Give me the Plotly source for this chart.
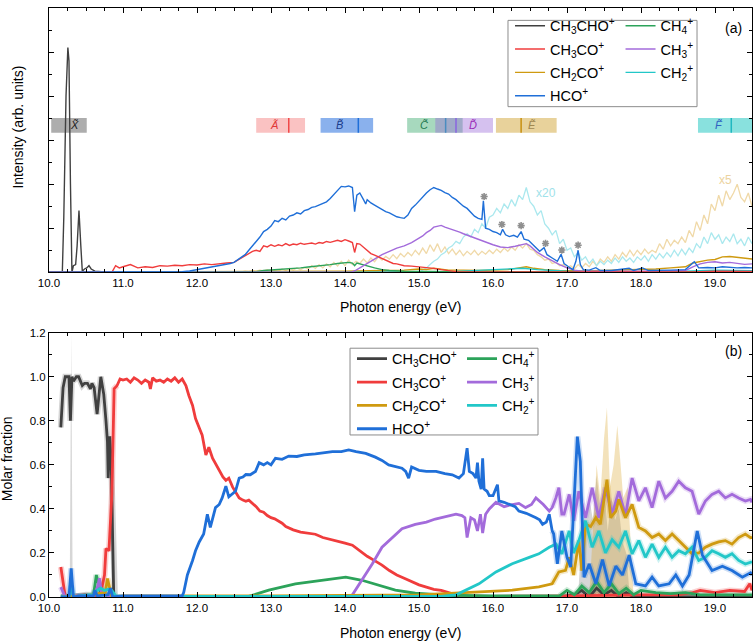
import plotly.graph_objects as go

FONT = "Arial, Liberation Sans, sans-serif"

# ---------------- colours ----------------
C_CH3CHO = "#404040"
C_CH3CO = "#f03c3c"
C_CH2CO = "#cf9a10"
C_HCO = "#1f6fd8"
C_CH4 = "#2ca35a"
C_CH3 = "#a36bdb"
C_CH2 = "#22c7c8"

# ---------------- panel (a) : intensities (arb. units) ----------------
A_CH3CHO_X = [10.0, 10.18, 10.2, 10.23, 10.255, 10.27, 10.29, 10.31, 10.33, 10.36, 10.38, 10.405, 10.43, 10.45,
              10.48, 10.51, 10.54, 10.57, 10.62, 10.7, 10.8, 11.0, 19.5]
A_CH3CHO_Y = [0, 0, 2.5, 8.0, 10.2, 9.6, 4.0, 0.0, 0.3, 0.35, 1.2, 2.8, 1.2, 0.05,
              0.15, 0.2, 0.3, 0.15, 0.05, 0.03, 0.0, 0.0, 0.0]

A_CH3CO_X = [10.0, 10.85, 10.9, 10.95, 11.0, 11.1, 11.2, 11.3, 11.4, 11.5, 11.6, 11.7, 11.8, 11.9, 12.0, 12.1, 12.2,
             12.3, 12.4, 12.5, 12.55, 12.6, 12.65, 12.7, 12.75, 12.8, 12.85, 12.9, 12.95, 13.0, 13.05, 13.1, 13.15,
             13.2, 13.25, 13.3, 13.35, 13.4, 13.45, 13.5, 13.55, 13.6, 13.65, 13.7, 13.75, 13.8, 13.85, 13.9, 13.95,
             14.0, 14.05, 14.1, 14.13, 14.16, 14.2, 14.25, 14.3, 14.35, 14.4, 14.45, 14.5, 14.55, 14.6, 14.65, 14.7,
             14.8, 14.9, 15.0, 15.1, 15.2, 15.3, 15.4, 15.5, 15.6, 16.0, 17.0, 18.0, 18.7, 19.0, 19.5]
A_CH3CO_Y = [0, 0, 0.3, 0.2, 0.25, 0.35, 0.2, 0.25, 0.22, 0.3, 0.28, 0.32, 0.3, 0.35, 0.33, 0.38, 0.35,
             0.37, 0.42, 0.45, 0.55, 0.66, 0.75, 0.84, 0.95, 1.0, 0.95, 1.2, 1.15, 1.25, 1.18, 1.25, 1.2,
             1.3, 1.22, 1.28, 1.25, 1.32, 1.27, 1.3, 1.33, 1.28, 1.35, 1.32, 1.4, 1.36, 1.42, 1.45, 1.4,
             1.48, 1.42, 1.35, 0.9, 1.3, 1.28, 1.15, 1.0, 0.85, 0.78, 0.7, 0.62, 0.55, 0.45, 0.4, 0.38,
             0.3, 0.28, 0.25, 0.22, 0.18, 0.12, 0.06, 0.03, 0.02, 0.02, 0.01, 0.01, 0.02, 0.05, 0.04]

A_HCO_X = [10.0, 11.6, 11.8, 11.9, 12.0, 12.1, 12.2, 12.3, 12.4, 12.45, 12.5, 12.55, 12.6, 12.65, 12.7, 12.75, 12.8,
           12.85, 12.9, 12.95, 13.0, 13.05, 13.1, 13.15, 13.2, 13.25, 13.3, 13.35, 13.4, 13.45, 13.5, 13.55, 13.6,
           13.65, 13.7, 13.75, 13.8, 13.85, 13.9, 13.95, 14.0, 14.05, 14.1, 14.13, 14.16, 14.2, 14.25, 14.28, 14.3,
           14.35, 14.4, 14.45, 14.5, 14.55, 14.6, 14.65, 14.7, 14.75, 14.8, 14.85, 14.9, 14.95, 15.0, 15.05, 15.1,
           15.15, 15.2, 15.25, 15.3, 15.35, 15.4, 15.45, 15.5, 15.55, 15.6, 15.65, 15.7, 15.75, 15.8, 15.85, 15.87,
           15.9, 15.95, 16.0, 16.05, 16.1, 16.13, 16.17, 16.22, 16.28, 16.33, 16.38, 16.42, 16.48, 16.53, 16.58,
           16.63, 16.69, 16.73, 16.8, 16.87, 16.92, 16.96, 17.02, 17.08, 17.12, 17.15, 17.18, 17.22, 17.3, 17.39,
           17.45, 17.6, 17.84, 17.9, 18.02, 18.1, 18.4, 18.6, 18.72, 18.78, 18.9, 19.0, 19.1, 19.2, 19.3, 19.4, 19.5]
A_HCO_Y = [0, 0, 0.03, 0.06, 0.12, 0.17, 0.22, 0.3, 0.36, 0.4, 0.45, 0.58, 0.68, 0.8, 1.0, 1.2, 1.35,
           1.6, 1.85, 1.95, 2.1, 2.35, 2.3, 2.45, 2.38, 2.55, 2.6, 2.7, 2.65, 2.8, 2.85, 2.95, 2.98,
           3.05, 3.15, 3.2, 3.35, 3.55, 3.75, 3.9, 3.88, 3.92, 3.85, 2.75, 3.5, 3.6, 3.3, 3.1, 3.3,
           3.15, 3.05, 2.95, 2.85, 2.75, 2.7, 2.6, 2.52, 2.48, 2.45, 2.6, 2.9, 3.05, 3.25, 3.4, 3.6,
           3.75, 3.85, 3.78, 3.72, 3.62, 3.55, 3.4, 3.3, 3.15, 3.0, 2.9, 2.7, 2.55, 2.45, 2.4, 3.25,
           2.0, 1.95, 1.85, 1.8, 1.7, 1.95, 1.7, 1.62, 1.68, 1.6, 1.85, 1.5, 1.45, 1.28, 1.1,
           0.95, 1.12, 0.8, 0.65, 0.5, 0.82, 0.4, 0.25, 0.12, 0.5, 1.0, 0.35, 0.12, 0.1, 0.21,
           0.08, 0.08, 0.18, 0.08, 0.2, 0.08, 0.1, 0.12, 0.48, 0.2, 0.22, 0.2, 0.25, 0.22, 0.2, 0.22, 0.2]

A_CH3_X = [10.0, 14.08, 14.15, 14.2, 14.3, 14.4, 14.5, 14.6, 14.7, 14.8, 14.9, 15.0, 15.05, 15.1, 15.15, 15.2, 15.25,
           15.3, 15.35, 15.4, 15.45, 15.5, 15.55, 15.6, 15.7, 15.8, 15.9, 16.0, 16.1, 16.2, 16.3, 16.4, 16.45, 16.5,
           16.55, 16.6, 16.7, 16.8, 16.9, 17.0, 17.1, 17.2, 17.5, 18.0, 18.6, 18.7, 18.8, 18.9, 19.0, 19.1, 19.2,
           19.3, 19.4, 19.5]
A_CH3_Y = [0, 0, 0.1, 0.2, 0.4, 0.6, 0.8, 0.95, 1.1, 1.2, 1.35, 1.55, 1.65, 1.8, 1.9, 2.05, 2.1,
           2.13, 2.05, 2.0, 1.95, 1.88, 1.82, 1.75, 1.62, 1.5, 1.35, 1.25, 1.15, 1.12, 1.18, 1.25, 1.3, 1.2,
           1.05, 0.9, 0.7, 0.52, 0.35, 0.2, 0.1, 0.05, 0.04, 0.05, 0.08, 0.25, 0.38, 0.45, 0.48, 0.42, 0.45,
           0.4, 0.36, 0.38]

A_CH4_X = [10.0, 12.6, 12.8, 12.9, 13.0, 13.1, 13.2, 13.3, 13.4, 13.5, 13.6, 13.7, 13.8, 13.9, 14.0, 14.05, 14.1,
           14.13, 14.16, 14.2, 14.3, 14.4, 14.5, 14.6, 14.8, 15.0, 15.5, 16.0, 17.0, 18.0, 19.5]
A_CH4_Y = [0, 0, 0.03, 0.08, 0.1, 0.12, 0.15, 0.18, 0.2, 0.24, 0.27, 0.3, 0.35, 0.4, 0.45, 0.45, 0.42,
           0.3, 0.42, 0.38, 0.3, 0.2, 0.12, 0.08, 0.05, 0.04, 0.03, 0.03, 0.03, 0.03, 0.03]

A_CH2CO_X = [10.0, 13.5, 14.0, 14.5, 14.8, 15.0, 15.1, 15.2, 15.3, 15.4, 15.6, 15.8, 16.0, 16.2, 16.35, 16.45, 16.55,
             16.7, 16.9, 17.2, 17.5, 17.8, 18.0, 18.2, 18.4, 18.6, 18.7, 18.8, 18.9, 19.0, 19.1, 19.2, 19.3, 19.4,
             19.5]
A_CH2CO_Y = [0, 0.02, 0.05, 0.08, 0.1, 0.15, 0.12, 0.18, 0.14, 0.1, 0.1, 0.08, 0.1, 0.12, 0.2, 0.25, 0.18,
             0.12, 0.08, 0.06, 0.08, 0.1, 0.12, 0.15, 0.2, 0.25, 0.42, 0.5, 0.55, 0.58, 0.7, 0.72, 0.68, 0.62,
             0.6]

A_CH2_X = [10.0, 15.0, 15.5, 16.0, 16.4, 16.6, 17.0, 17.5, 18.0, 18.5, 18.8, 19.0, 19.5]
A_CH2_Y = [0, 0, 0.04, 0.1, 0.18, 0.12, 0.05, 0.03, 0.03, 0.04, 0.07, 0.09, 0.07]

# CH2CO+ x5 (light), sampled every 0.05 eV from 12.6 eV
A_CH2CO_X5_START = 12.6
A_CH2CO_X5_Y = [0.02, 0.05, 0.03, 0.08, 0.05, 0.1, 0.06, 0.12,
                0.05, 0.1, 0.05, 0.15, 0.08, 0.18, 0.1, 0.2, 0.12, 0.22, 0.15, 0.3, 0.18, 0.35, 0.2, 0.38,
                0.25, 0.45, 0.28, 0.5, 0.3, 0.55, 0.35, 0.5, 0.4, 0.6, 0.42, 0.65, 0.48, 0.7, 0.55, 0.72,
                0.6, 0.8, 0.62, 0.85, 0.7, 0.9, 0.75, 1.0, 0.8, 1.1, 0.85, 1.25, 0.95, 1.3, 0.9, 1.15,
                0.85, 1.05, 0.8, 1.0, 0.75, 0.95, 0.8, 1.0, 0.78, 0.95, 0.82, 1.0, 0.85, 1.05, 0.9, 1.1,
                0.95, 1.15, 1.0, 1.25, 1.1, 1.3, 1.05, 1.0, 0.8, 0.7, 0.55, 0.6, 0.4, 0.45, 0.3, 0.35,
                0.2, 0.3, 0.15, 0.35, 0.2, 0.4, 0.25, 0.5, 0.3, 0.6, 0.45, 0.7, 0.5, 0.8, 0.6, 0.9,
                0.7, 1.0, 0.75, 1.0, 0.8, 1.05, 0.85, 1.0, 0.9, 1.3, 1.05, 1.5, 1.2, 1.45, 1.3, 1.6,
                1.35, 1.9, 1.6, 2.3, 1.9, 2.6, 2.2, 3.1, 2.8, 3.5, 3.0, 3.7, 3.3, 3.6, 4.0, 3.4,
                3.2, 3.6, 3.0]
# CH2+ x20 (light), sampled every 0.05 eV from 15.0 eV
A_CH2_X20_START = 15.0
A_CH2_X20_Y = [0.0, 0.1, 0.2, 0.35, 0.5, 0.6, 0.8, 0.9, 1.1, 1.2, 1.4, 1.3, 1.6, 1.75, 1.6, 1.95,
               1.8, 2.2, 2.0, 2.5, 2.6, 2.9, 2.7, 3.1, 2.9, 3.3, 3.0, 3.5, 3.3, 3.85, 3.2, 3.0,
               2.6, 2.8, 2.2, 2.0, 1.7, 1.9, 1.3, 1.5, 1.0, 1.1, 0.7, 0.9, 0.55, 0.7, 0.4, 0.6,
               0.3, 0.5, 0.35, 0.55, 0.4, 0.65, 0.45, 0.7, 0.5, 0.65, 0.45, 0.7, 0.55, 0.75, 0.5, 0.8,
               0.6, 0.85, 0.65, 0.9, 0.7, 1.0, 0.75, 1.05, 0.8, 1.1, 0.9, 1.3, 1.1, 1.6, 1.3, 1.8,
               1.5, 1.7, 1.3, 1.6, 1.4, 1.75, 1.3, 1.5, 1.2, 1.6, 1.3]

# asterisks above HCO+ autoionisation features
STAR_X = [15.88, 16.12, 16.38, 16.71, 16.93, 17.15]
STAR_Y = [3.44, 2.17, 2.12, 1.31, 1.01, 1.23]

# electronic-state bands
BAND_LABELS = ["X\u0303", "A\u0303", "B\u0303", "C\u0303", "D\u0303", "E\u0303", "F\u0303"]
BAND_START = [10.03, 12.80, 13.67, 14.84, 15.22, 16.04, 18.77]
BAND_END = [10.51, 13.46, 14.38, 15.59, 16.00, 16.86, 19.50]
BAND_MARK = [None, 13.24, 14.18, 15.36, 15.50, 16.38, 19.22]
BAND_LABEL_X = [10.34, 13.04, 13.92, 15.07, 15.73, 16.53, 19.05]
BAND_FILL = ["rgba(105,105,105,0.55)", "rgba(245,120,120,0.45)", "rgba(60,125,225,0.6)",
             "rgba(60,170,110,0.45)", "rgba(150,100,215,0.40)", "rgba(210,165,55,0.5)",
             "rgba(40,200,195,0.55)"]
BAND_LINE = [None, "#f04848", "#1f6fd8", "#4a8cc0", "#8a64e0", "#c89010", "#20b8c0"]
BAND_TEXT = ["#202020", "#e03838", "#1a3c8c", "#1f7a50", "#9a2ab8", "#a08850", "#3060c0"]
BAND_Y0, BAND_Y1 = 6.34, 7.01

# ---------------- panel (b) : molar fractions ----------------
B_CH3CHO_X = [10.16, 10.19, 10.22, 10.27, 10.29, 10.31, 10.33, 10.37, 10.4, 10.43, 10.45, 10.48, 10.52, 10.56,
              10.58, 10.61, 10.65, 10.7, 10.74, 10.77, 10.79, 10.8, 10.82, 10.84, 10.86, 10.875, 10.89, 11.0,
              16.9, 17.1, 17.2, 17.3, 17.4, 17.5, 17.6, 17.7, 17.8, 17.9, 18.0, 19.5]
B_CH3CHO_Y = [0.77, 0.95, 1.0, 1.0, 0.80, 1.0, 0.98, 1.0, 1.0, 0.98, 0.96, 0.97, 0.97, 0.945,
              0.97, 0.95, 0.83, 1.0, 0.92, 0.8, 0.705, 0.54, 0.73, 0.62, 0.3, 0.0, 0.0, 0.0,
              0.0, 0.01, 0.03, 0.0, 0.04, 0.01, 0.03, 0.0, 0.02, 0.0, 0.0, 0.0]

B_CH3CO_X = [10.16, 10.19, 10.22, 10.3, 10.5, 10.6, 10.7, 10.75, 10.77, 10.81, 10.85, 10.88, 10.92, 10.96, 11.0,
             11.05, 11.1, 11.15, 11.2, 11.25, 11.3, 11.35, 11.37, 11.4, 11.45, 11.5, 11.55, 11.6, 11.65, 11.7,
             11.75, 11.8, 11.85, 11.89, 11.94, 11.98, 12.03, 12.07, 12.12, 12.16, 12.21, 12.26, 12.3, 12.35,
             12.39, 12.43, 12.48, 12.53, 12.57, 12.62, 12.66, 12.7, 12.75, 12.8, 12.85, 12.9, 12.95, 13.0,
             13.05, 13.1, 13.15, 13.2, 13.3, 13.4, 13.5, 13.6, 13.7, 13.8, 13.9, 14.0, 14.1, 14.2, 14.3,
             14.4, 14.5, 14.6, 14.7, 14.8, 14.9, 15.0, 15.1, 15.2, 15.3, 15.4, 15.5, 15.6, 15.8, 16.0, 17.0,
             17.5, 18.0, 18.5, 18.7, 18.8, 19.0, 19.2, 19.4, 19.47, 19.5]
B_CH3CO_Y = [0.136, 0.06, 0.0, 0.0, 0.01, 0.0, 0.02, 0.1, 0.22, 0.21, 0.47, 0.945, 0.96, 0.99, 0.985,
             0.99, 0.975, 0.995, 0.985, 0.97, 0.985, 0.975, 0.945, 0.995, 0.98, 0.985, 0.975, 0.99, 0.98, 0.995,
             0.975, 0.99, 0.96, 0.915, 0.87, 0.81, 0.77, 0.735, 0.645, 0.68, 0.63, 0.6, 0.57, 0.545,
             0.53, 0.54, 0.5, 0.47, 0.45, 0.44, 0.435, 0.44, 0.425, 0.41, 0.39, 0.385, 0.37, 0.36,
             0.355, 0.345, 0.335, 0.32, 0.305, 0.295, 0.29, 0.285, 0.27, 0.262, 0.255, 0.245, 0.235, 0.21, 0.185,
             0.165, 0.145, 0.12, 0.1, 0.085, 0.07, 0.055, 0.045, 0.035, 0.03, 0.02, 0.01, 0.005, 0.003, 0.003, 0.005,
             0.008, 0.01, 0.01, 0.02, 0.03, 0.02, 0.03, 0.025, 0.06, 0.03]

B_HCO_X = [10.16, 10.27, 10.3, 10.33, 10.4, 10.6, 10.62, 10.65, 10.8, 10.83, 10.86, 11.0, 11.5, 11.8, 11.82, 11.87,
           11.94, 11.98, 12.03, 12.09, 12.14, 12.18, 12.25, 12.3, 12.34, 12.39, 12.43, 12.48, 12.52, 12.57, 12.62,
           12.66, 12.72, 12.79, 12.84, 12.9, 12.95, 13.0, 13.06, 13.15, 13.24, 13.35, 13.45, 13.6, 13.7, 13.83,
           13.95, 14.05, 14.15, 14.28, 14.41, 14.5, 14.59, 14.7, 14.77, 14.82, 14.86, 14.9, 15.0, 15.1, 15.23,
           15.35, 15.45, 15.54, 15.6, 15.65, 15.68, 15.73, 15.77, 15.79, 15.81, 15.84, 15.86, 15.88, 15.92, 15.95,
           16.0, 16.06, 16.08, 16.15, 16.22, 16.3, 16.35, 16.45, 16.58, 16.63, 16.67, 16.72, 16.76, 16.8, 16.82,
           16.87, 16.93, 17.0, 17.05, 17.14, 17.18, 17.23, 17.3, 17.39, 17.48, 17.57, 17.66, 17.75, 17.84, 17.93,
           18.06, 18.15, 18.24, 18.38, 18.47, 18.56, 18.65, 18.71, 18.76, 18.83, 18.96, 19.1, 19.23, 19.37, 19.48,
           19.5]
B_HCO_Y = [0.0, 0.0, 0.13, 0.0, 0.005, 0.005, 0.03, 0.005, 0.01, 0.04, 0.0, 0.005, 0.005, 0.005, 0.02, 0.1,
           0.166, 0.21, 0.25, 0.286, 0.376, 0.316, 0.406, 0.42, 0.45, 0.503, 0.455, 0.47, 0.48, 0.54, 0.545,
           0.556, 0.555, 0.57, 0.61, 0.6, 0.61, 0.6, 0.63, 0.625, 0.64, 0.638, 0.645, 0.65, 0.655, 0.66,
           0.66, 0.668, 0.66, 0.652, 0.635, 0.62, 0.6, 0.59, 0.585, 0.57, 0.54, 0.59, 0.575, 0.57, 0.57,
           0.56, 0.555, 0.54, 0.56, 0.676, 0.57, 0.56, 0.54, 0.61, 0.526, 0.49, 0.63, 0.49, 0.48, 0.46,
           0.46, 0.51, 0.436, 0.43, 0.42, 0.41, 0.39, 0.38, 0.36, 0.35, 0.33, 0.34, 0.376, 0.3, 0.286,
           0.151, 0.30, 0.18, 0.136, 0.728, 0.616, 0.09, 0.15, 0.06, 0.17, 0.05, 0.14, 0.1, 0.19, 0.06,
           0.05, 0.09, 0.05, 0.06, 0.1, 0.05, 0.1, 0.2, 0.30, 0.19, 0.12, 0.14, 0.12, 0.09, 0.11,
           0.1]

B_CH3_X = [10.16, 10.19, 10.22, 10.4, 10.6, 10.66, 10.68, 10.71, 10.8, 11.0, 14.08, 14.1, 14.23, 14.37, 14.5, 14.64,
           14.77, 14.95, 15.1, 15.22, 15.35, 15.5, 15.58, 15.62, 15.65, 15.7, 15.75, 15.79, 15.83, 15.86, 15.9,
           15.95, 16.04, 16.15, 16.26, 16.35, 16.44, 16.52, 16.58, 16.68, 16.76, 16.8, 16.85, 16.89, 16.93, 16.96,
           17.03, 17.09, 17.16, 17.25, 17.34, 17.43, 17.52, 17.61, 17.7, 17.79, 17.88, 17.97, 18.06, 18.15, 18.24,
           18.33, 18.42, 18.51, 18.6, 18.69, 18.78, 18.87, 18.96, 19.05, 19.14, 19.23, 19.32, 19.41, 19.48, 19.5]
B_CH3_Y = [0.045, 0.02, 0.0, 0.005, 0.0, 0.05, 0.085, 0.02, 0.005, 0.003, 0.003, 0.01, 0.076, 0.151, 0.226, 0.27,
           0.31, 0.33, 0.34, 0.354, 0.365, 0.376, 0.37, 0.36, 0.27, 0.36, 0.35, 0.30, 0.376, 0.29, 0.376,
           0.40, 0.43, 0.41, 0.42, 0.425, 0.406, 0.42, 0.45, 0.42, 0.39, 0.406, 0.45, 0.496, 0.376, 0.376,
           0.466, 0.346, 0.48, 0.36, 0.496, 0.36, 0.496, 0.376, 0.48, 0.37, 0.54, 0.436, 0.496, 0.406, 0.526,
           0.45, 0.48, 0.526, 0.496, 0.48, 0.376, 0.436, 0.466, 0.48, 0.45, 0.466, 0.45, 0.436, 0.443, 0.43]

B_CH2CO_X = [10.16, 10.5, 10.76, 10.79, 10.82, 10.85, 11.0, 13.0, 15.0, 15.81, 16.26, 16.62, 16.8, 16.89, 16.98,
             17.03, 17.09, 17.16, 17.2, 17.25, 17.32, 17.39, 17.45, 17.54, 17.59, 17.66, 17.7, 17.79, 17.88, 17.97,
             18.06, 18.15, 18.24, 18.33, 18.42, 18.51, 18.6, 18.69, 18.78, 18.87, 18.96, 19.05, 19.14, 19.23, 19.32,
             19.41, 19.48, 19.5]
B_CH2CO_Y = [0.0, 0.005, 0.02, 0.084, 0.04, 0.0, 0.005, 0.005, 0.01, 0.024, 0.031, 0.046, 0.06, 0.114, 0.121,
             0.18, 0.1, 0.256, 0.12, 0.33, 0.32, 0.36, 0.33, 0.533, 0.36, 0.39, 0.443, 0.36, 0.42, 0.316,
             0.30, 0.27, 0.286, 0.256, 0.286, 0.256, 0.226, 0.196, 0.2, 0.226, 0.24, 0.25, 0.256, 0.24, 0.27,
             0.286, 0.27, 0.27]

B_CH2_X = [10.16, 10.27, 10.3, 10.33, 10.5, 10.6, 10.65, 10.7, 10.75, 10.8, 10.85, 10.9, 11.0, 15.3, 15.5, 15.81,
           16.04, 16.26, 16.49, 16.62, 16.76, 16.85, 16.93, 17.03, 17.09, 17.16, 17.25, 17.34, 17.43, 17.52, 17.61,
           17.7, 17.79, 17.88, 17.97, 18.06, 18.15, 18.24, 18.33, 18.42, 18.51, 18.6, 18.69, 18.78, 18.87, 18.96,
           19.05, 19.14, 19.23, 19.32, 19.41, 19.48, 19.5]
B_CH2_Y = [0.0, 0.0, 0.05, 0.0, 0.01, 0.01, 0.03, 0.04, 0.03, 0.035, 0.03, 0.005, 0.003, 0.003, 0.01, 0.06,
           0.114, 0.151, 0.18, 0.196, 0.226, 0.24, 0.196, 0.30, 0.2, 0.256, 0.346, 0.226, 0.30, 0.2, 0.26,
           0.226, 0.30, 0.196, 0.256, 0.18, 0.24, 0.18, 0.226, 0.18, 0.21, 0.196, 0.226, 0.166, 0.18, 0.21,
           0.196, 0.18, 0.196, 0.166, 0.15, 0.16, 0.16]

B_CH4_X = [10.16, 10.6, 10.64, 10.67, 10.7, 10.8, 11.0, 12.7, 12.97, 13.33, 13.69, 14.01, 14.23, 14.46, 14.68, 14.95,
           15.36, 16.0, 16.9, 17.0, 17.1, 17.2, 17.3, 17.4, 17.5, 17.6, 17.7, 17.8, 17.9, 18.0, 18.2, 18.4, 18.6,
           18.8, 19.0, 19.5]
B_CH4_Y = [0.0, 0.005, 0.1, 0.06, 0.02, 0.005, 0.003, 0.003, 0.031, 0.06, 0.076, 0.09, 0.076, 0.054, 0.031, 0.017,
           0.008, 0.005, 0.005, 0.03, 0.01, 0.05, 0.02, 0.07, 0.02, 0.06, 0.015, 0.04, 0.01, 0.03, 0.02, 0.015, 0.02,
           0.01, 0.01, 0.01]

# uncertainty envelopes (upper edges) in the noisy regions
ENV_GRAY_X = [10.28, 10.3, 10.32, 17.15, 17.2, 17.3, 17.35, 17.4, 17.45, 17.5, 17.55, 17.6, 17.65, 17.7, 17.75,
              17.8, 17.85]
ENV_GRAY_Y = [0.0, 1.2, 0.0, 0.0, 0.3, 0.45, 0.35, 0.55, 0.4, 0.5, 0.3, 0.45, 0.35, 0.4, 0.25, 0.2, 0.0]
ENV_GOLD_X = [17.3, 17.4, 17.45, 17.5, 17.54, 17.58, 17.63, 17.68, 17.72, 17.76, 17.82, 17.9]
ENV_GOLD_Y = [0.0, 0.6, 0.45, 0.72, 0.86, 0.5, 0.6, 0.78, 0.62, 0.45, 0.5, 0.0]

X_MIN, X_MAX = 10.0, 19.5

fig = go.Figure()


def xs(start, n):
    return [round(start + 0.05 * i, 2) for i in range(n)]


# ---- panel (a) ----
fig.add_trace(go.Scatter(x=xs(A_CH2CO_X5_START, len(A_CH2CO_X5_Y)), y=A_CH2CO_X5_Y, mode="lines",
                         line=dict(color="#f0d9a8", width=1.3), showlegend=False, xaxis="x", yaxis="y"))
fig.add_trace(go.Scatter(x=xs(A_CH2_X20_START, len(A_CH2_X20_Y)), y=A_CH2_X20_Y, mode="lines",
                         line=dict(color="#aae8ee", width=1.3), showlegend=False, xaxis="x", yaxis="y"))

top_series = [
    ("CH<sub>3</sub>CHO<sup>+</sup>", A_CH3CHO_X, A_CH3CHO_Y, C_CH3CHO, "legend", 1),
    ("CH<sub>2</sub>CO<sup>+</sup>", A_CH2CO_X, A_CH2CO_Y, C_CH2CO, "legend", 3),
    ("CH<sub>2</sub><sup>+</sup>", A_CH2_X, A_CH2_Y, C_CH2, "legend2", 3),
    ("CH<sub>4</sub><sup>+</sup>", A_CH4_X, A_CH4_Y, C_CH4, "legend2", 1),
    ("CH<sub>3</sub><sup>+</sup>", A_CH3_X, A_CH3_Y, C_CH3, "legend2", 2),
    ("CH<sub>3</sub>CO<sup>+</sup>", A_CH3CO_X, A_CH3CO_Y, C_CH3CO, "legend", 2),
    ("HCO<sup>+</sup>", A_HCO_X, A_HCO_Y, C_HCO, "legend", 4),
]
for name, x, y, c, lg, rank in top_series:
    fig.add_trace(go.Scatter(x=x, y=y, mode="lines", name=name, line=dict(color=c, width=1.4),
                             legend=lg, legendrank=rank, legendgroup="a" + name,
                             xaxis="x", yaxis="y"))

fig.add_trace(go.Scatter(x=STAR_X, y=STAR_Y, mode="markers", showlegend=False,
                         marker=dict(symbol="asterisk-open", size=6, color="#8f8f8f",
                                     line=dict(color="#8f8f8f", width=1.6)),
                         xaxis="x", yaxis="y"))

# ---- panel (b) ----
fig.add_trace(go.Scatter(x=ENV_GRAY_X, y=ENV_GRAY_Y, mode="lines", fill="toself", showlegend=False,
                         line=dict(width=0), fillcolor="rgba(120,120,120,0.30)", xaxis="x2", yaxis="y2"))
fig.add_trace(go.Scatter(x=ENV_GOLD_X, y=ENV_GOLD_Y, mode="lines", fill="toself", showlegend=False,
                         line=dict(width=0), fillcolor="rgba(215,160,30,0.30)", xaxis="x2", yaxis="y2"))

bot_series = [
    ("CH<sub>3</sub>CHO<sup>+</sup>", B_CH3CHO_X, B_CH3CHO_Y, C_CH3CHO, "legend3", 1),
    ("CH<sub>3</sub>CO<sup>+</sup>", B_CH3CO_X, B_CH3CO_Y, C_CH3CO, "legend3", 2),
    ("CH<sub>4</sub><sup>+</sup>", B_CH4_X, B_CH4_Y, C_CH4, "legend4", 1),
    ("CH<sub>3</sub><sup>+</sup>", B_CH3_X, B_CH3_Y, C_CH3, "legend4", 2),
    ("CH<sub>2</sub>CO<sup>+</sup>", B_CH2CO_X, B_CH2CO_Y, C_CH2CO, "legend3", 3),
    ("CH<sub>2</sub><sup>+</sup>", B_CH2_X, B_CH2_Y, C_CH2, "legend4", 3),
    ("HCO<sup>+</sup>", B_HCO_X, B_HCO_Y, C_HCO, "legend3", 4),
]
# translucent halos (uncertainty) in the noisy ranges
for name, x, y, c, lg, rank in bot_series:
    for lo, hi in [(10.1, 10.95), (16.8, 19.6)]:
        seg = [(a, b) for a, b in zip(x, y) if lo <= a <= hi]
        if len(seg) > 1:
            fig.add_trace(go.Scatter(x=[p[0] for p in seg], y=[p[1] for p in seg], mode="lines",
                                     showlegend=False, opacity=0.22, line=dict(color=c, width=6),
                                     hoverinfo="skip", xaxis="x2", yaxis="y2"))
for name, x, y, c, lg, rank in bot_series:
    fig.add_trace(go.Scatter(x=x, y=y, mode="lines", name=name, line=dict(color=c, width=2.8),
                             legend=lg, legendrank=rank, legendgroup="b" + name,
                             xaxis="x2", yaxis="y2"))

# ---- bands ----
shapes = []
annotations = []
for i in range(len(BAND_LABELS)):
    shapes.append(dict(type="rect", xref="x", yref="y", x0=BAND_START[i], x1=BAND_END[i], y0=BAND_Y0, y1=BAND_Y1,
                       fillcolor=BAND_FILL[i], line=dict(width=0), layer="below"))
    if BAND_MARK[i] is not None:
        shapes.append(dict(type="line", xref="x", yref="y", x0=BAND_MARK[i], x1=BAND_MARK[i], y0=BAND_Y0,
                           y1=BAND_Y1, line=dict(color=BAND_LINE[i], width=1.5)))
    annotations.append(dict(x=BAND_LABEL_X[i], y=(BAND_Y0 + BAND_Y1) / 2, xref="x", yref="y",
                            xanchor="center", yanchor="middle",
                            text="<i>" + BAND_LABELS[i] + "</i>", showarrow=False,
                            font=dict(family=FONT, size=11, color=BAND_TEXT[i])))

# legend boxes
shapes.append(dict(type="rect", xref="paper", yref="paper", x0=0.6529, x1=0.9218, y0=0.8325, y1=0.9790,
                   line=dict(color="#8c8c8c", width=1), fillcolor="rgba(255,255,255,0.9)", layer="below"))
shapes.append(dict(type="rect", xref="paper", yref="paper", x0=0.4282, x1=0.6956, y0=0.2751, y1=0.4224,
                   line=dict(color="#8c8c8c", width=1), fillcolor="rgba(255,255,255,0.9)", layer="below"))


def ann(x, y, text, size, color="black", angle=0):
    return dict(x=x, y=y, xref="paper", yref="paper", text=text, showarrow=False, textangle=angle,
                xanchor="center", yanchor="middle", font=dict(family=FONT, size=size, color=color))


annotations += [
    dict(x=16.72, y=3.6, xref="x", yref="y", text="x20", showarrow=False, xanchor="center", yanchor="middle",
         font=dict(family=FONT, size=12, color="#9fe2ea")),
    dict(x=19.14, y=4.2, xref="x", yref="y", text="x5", showarrow=False, xanchor="center", yanchor="middle",
         font=dict(family=FONT, size=12, color="#ecd3a0")),
    ann(0.5, 0.4924, "Photon energy (eV)", 14),
    ann(0.5, -0.0605, "Photon energy (eV)", 14),
    ann(-0.0437, 0.7975, "Intensity (arb. units)", 14, angle=-90),
    ann(-0.0593, 0.2345, "Molar fraction", 14, angle=-90),
    ann(0.973, 0.966, "(a)", 14),
    ann(0.973, 0.4185, "(b)", 14),
]

axis_common = dict(showline=True, linecolor="black", linewidth=1, mirror="allticks", ticks="inside",
                   tickcolor="black", ticklen=5, showgrid=False, zeroline=False,
                   tickfont=dict(family=FONT, size=11.5, color="black"))
xax = dict(axis_common, range=[X_MIN, X_MAX], dtick=1, tick0=10, tickformat=".1f",
           minor=dict(dtick=0.25, ticks="inside", ticklen=3, tickcolor="black", showgrid=False))


def legend_cfg(x, y):
    return dict(x=x, y=y, xref="paper", yref="paper", xanchor="left", yanchor="top", bgcolor="rgba(0,0,0,0)",
                borderwidth=0, font=dict(family=FONT, size=14.5, color="black"), itemwidth=30,
                tracegroupgap=1.5, traceorder="grouped")


fig.update_layout(
    width=756, height=643, margin=dict(l=49, r=4, t=2, b=46),
    plot_bgcolor="white", paper_bgcolor="white",
    xaxis=dict(xax, domain=[0, 1], anchor="y"),
    yaxis=dict(axis_common, domain=[0.5513, 1.0], range=[0, 12], dtick=2, showticklabels=False, anchor="x",
               minor=dict(dtick=1, ticks="inside", ticklen=3, tickcolor="black")),
    xaxis2=dict(xax, domain=[0, 1], anchor="y2"),
    yaxis2=dict(axis_common, domain=[0, 0.4487], range=[0, 1.2], dtick=0.2, tickformat=".1f", anchor="x2",
                minor=dict(dtick=0.1, ticks="inside", ticklen=3, tickcolor="black")),
    legend=legend_cfg(0.6558, 0.997),
    legend2=legend_cfg(0.8130, 0.997),
    legend3=legend_cfg(0.4310, 0.4316),
    legend4=legend_cfg(0.5875, 0.4316),
    shapes=shapes, annotations=annotations,
    font=dict(family=FONT, color="black"),
)

fig.write_html("out.html", config={"displayModeBar": False},
               post_script="document.body.style.margin='0px';document.body.style.padding='0px';")
